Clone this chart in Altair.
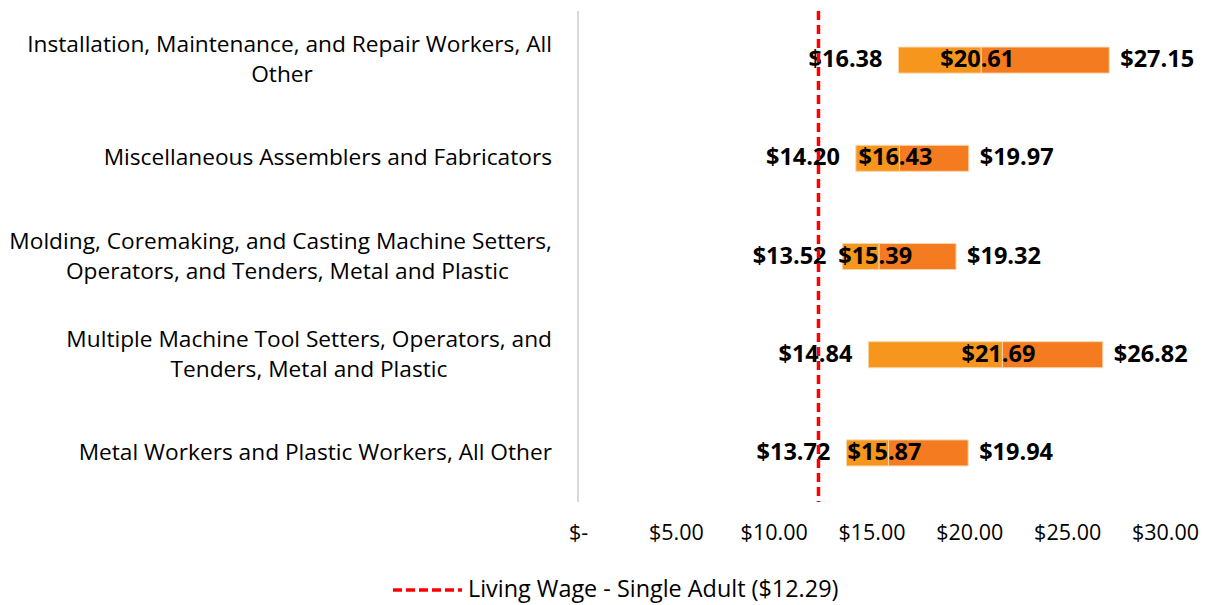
import altair as alt
import pandas as pd

categories = [
    "Installation, Maintenance, and Repair Workers, All Other",
    "Miscellaneous Assemblers and Fabricators",
    "Molding, Coremaking, and Casting Machine Setters, Operators, and Tenders, Metal and Plastic",
    "Multiple Machine Tool Setters, Operators, and Tenders, Metal and Plastic",
    "Metal Workers and Plastic Workers, All Other",
]
label_line1 = [
    "Installation, Maintenance, and Repair Workers, All",
    "Miscellaneous Assemblers and Fabricators",
    "Molding, Coremaking, and Casting Machine Setters,",
    "Multiple Machine Tool Setters, Operators, and",
    "Metal Workers and Plastic Workers, All Other",
]
label_line2 = [
    "Other",
    "",
    "Operators, and Tenders, Metal and Plastic",
    "Tenders, Metal and Plastic",
    "",
]
low_wage = [16.38, 14.20, 13.52, 14.84, 13.72]
median_wage = [20.61, 16.43, 15.39, 21.69, 15.87]
high_wage = [27.15, 19.97, 19.32, 26.82, 19.94]
living_wage = 12.29
living_wage_label = "Living Wage - Single Adult ($12.29)"
x_ticks = [0, 5, 10, 15, 20, 25, 30]

FONT = "Open Sans"
LIGHT = "#F7961D"
DARK = "#F47B20"
W, H = 587, 491
PAD_L, PAD_T = 578, 11
LAB_SIZE = 22.7

df = pd.DataFrame({
    "category": categories,
    "line1": label_line1,
    "line2": label_line2,
    "low": low_wage,
    "median": median_wage,
    "high": high_wage,
})

base = alt.Chart(df)
y_enc = alt.Y("category:N", sort=categories,
              scale=alt.Scale(paddingInner=0, paddingOuter=0), axis=None)
x_scale = alt.Scale(domain=[0, 30], nice=False, zero=True)

bar_low = base.mark_bar(size=26, color=LIGHT, stroke="#FBD3A6", strokeWidth=1).encode(
    x=alt.X("low:Q", scale=x_scale,
            axis=alt.Axis(values=x_ticks, grid=False, domain=False, ticks=False,
                          title=None, labelPadding=20, labelFontSize=21.5, labelFont=FONT,
                          labelColor="#000", labelFlush=False, labelBound=False,
                          labelOverlap=False,
                          labelExpr="datum.value == 0 ? '$-' : '$' + format(datum.value, '.2f')")),
    x2="median:Q",
    y=y_enc,
)
bar_high = base.mark_bar(size=26, color=DARK, stroke="#FBD3A6", strokeWidth=1).encode(
    x="median:Q", x2="high:Q", y=y_enc,
)

txt_kw = dict(font=FONT, fontSize=23.5, fontWeight="bold", color="#000", baseline="middle")
t_low = base.mark_text(align="right", dx=-16, **txt_kw).encode(
    x="low:Q", y=y_enc, text=alt.Text("low:Q", format="$.2f"))
t_med = base.mark_text(align="center", dx=-4, **txt_kw).encode(
    x="median:Q", y=y_enc, text=alt.Text("median:Q", format="$.2f"))
t_high = base.mark_text(align="left", dx=11, **txt_kw).encode(
    x="high:Q", y=y_enc, text=alt.Text("high:Q", format="$.2f"))

lab_kw = dict(font=FONT, fontSize=LAB_SIZE, color="#000", baseline="middle")
single = base.transform_filter("datum.line2 == ''").mark_text(align="right", **lab_kw).encode(
    x=alt.value(-26), y=y_enc, text="line1:N")
first = base.transform_filter("datum.line2 != ''").mark_text(align="right", dy=-15, **lab_kw).encode(
    x=alt.value(-26), y=y_enc, text="line1:N")
second = base.transform_filter("datum.line2 != ''").transform_calculate(
    cx="-26 - length(datum.line1) * 10.8 / 2"
).mark_text(align="center", dy=15, **lab_kw).encode(
    x=alt.X("cx:Q", scale=None), y=y_enc, text="line2:N")

# light grey vertical axis line at x = 0
axis_line = alt.Chart(pd.DataFrame({"z": [0]})).mark_rule(
    color="#D9D9D9", strokeWidth=2).encode(x=alt.X("z:Q"))

lw = alt.Chart(pd.DataFrame({"lw": [living_wage]})).mark_rule(
    color="#FF0000", strokeWidth=3.5, strokeDash=[9, 5]).encode(x=alt.X("lw:Q"))

leg = pd.DataFrame({"label": [living_wage_label]})
leg_rule = alt.Chart(leg).mark_rule(color="#FF0000", strokeWidth=3.5, strokeDash=[9, 4]).encode(
    x=alt.value(-185), x2=alt.value(-116), y=alt.value(579))
leg_text = alt.Chart(leg).mark_text(align="left", font=FONT, fontSize=23.4, color="#000",
                                    baseline="middle").encode(
    x=alt.value(-110), y=alt.value(579), text="label:N")

chart = alt.layer(
    bar_low, axis_line, bar_high, t_low, t_med, t_high, single, first, second, lw,
    leg_rule, leg_text
).properties(
    width=W, height=H,
    background="white",
    autosize=alt.AutoSizeParams(type="none"),
    padding={"left": PAD_L, "top": PAD_T, "right": 1206 - PAD_L - W, "bottom": 605 - PAD_T - H},
).configure_view(stroke=None)

chart.save("out.html", embed_options={"renderer": "svg", "actions": False})
